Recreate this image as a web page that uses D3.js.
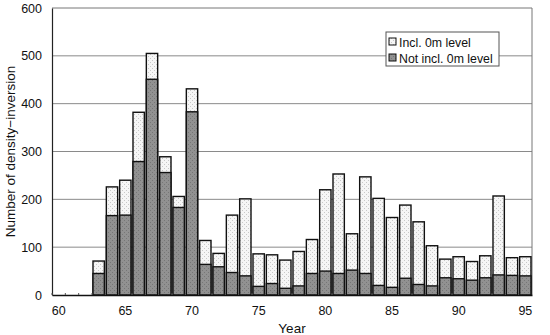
<!DOCTYPE html>
<html>
<head>
<meta charset="utf-8">
<script src="https://cdn.jsdelivr.net/npm/d3@7"></script>
<style>
  html, body { margin: 0; padding: 0; background: #fff; }
  svg { display: block; font-family: "Liberation Sans", Arial, sans-serif; }
</style>
</head>
<body>
<svg id="chart" width="550" height="335"></svg>
<script>
const years = d3.range(60, 96);
const barYears = d3.range(63, 96);
const inclValues = [71, 226, 240, 382, 505, 289, 206, 431, 114, 87, 167, 201, 86, 84, 73, 91, 116, 220, 253, 128, 247, 202, 162, 188, 153, 103, 75, 80, 70, 82, 207, 78, 80];
const notInclValues = [45, 166, 167, 279, 451, 256, 183, 383, 64, 59, 47, 40, 18, 24, 14, 19, 45, 50, 45, 52, 45, 20, 16, 35, 22, 19, 36, 34, 31, 36, 42, 41, 40];
const yTicks = [0, 100, 200, 300, 400, 500, 600];
const xTickLabels = [60, 65, 70, 75, 80, 85, 90, 95];
const seriesNames = ["Incl. 0m level", "Not incl. 0m level"];

const svg = d3.select("#chart");
const margin = { left: 52, right: 18, top: 8, bottom: 40 };
const W = 550, H = 335;

const defs = svg.append("defs");
function stipple(id, base, dot) {
  const p = defs.append("pattern").attr("id", id).attr("patternUnits", "userSpaceOnUse")
    .attr("width", 4).attr("height", 4);
  p.append("rect").attr("width", 4).attr("height", 4).attr("fill", base);
  p.append("rect").attr("x", 0).attr("y", 0).attr("width", 1).attr("height", 1).attr("fill", dot);
  p.append("rect").attr("x", 2).attr("y", 2).attr("width", 1).attr("height", 1).attr("fill", dot);
}
stipple("lightPat", "#f6f6f6", "#c8c8c8");
stipple("darkPat", "#919191", "#767676");

const x = d3.scaleBand().domain(years).range([margin.left, W - margin.right]).padding(0);
const y = d3.scaleLinear().domain([0, 600]).range([H - margin.bottom, margin.top]);

// gridlines
svg.append("g").selectAll("line").data(yTicks.filter(d => d > 0 && d < 600)).join("line")
  .attr("x1", margin.left).attr("x2", W - margin.right)
  .attr("y1", d => y(d)).attr("y2", d => y(d))
  .attr("stroke", "#8a8a8a").attr("stroke-width", 1);

// plot frame (top, right)
svg.append("path")
  .attr("d", `M${margin.left},${y(600)}H${W - margin.right}V${y(0)}`)
  .attr("fill", "none").attr("stroke", "#777").attr("stroke-width", 1);

const bw = x.bandwidth();
const inset = 1;
// light bars
svg.append("g").selectAll("rect").data(barYears.map((yr, i) => ({ yr, v: inclValues[i] }))).join("rect")
  .attr("x", d => x(d.yr) + inset).attr("width", bw - 2 * inset)
  .attr("y", d => y(d.v)).attr("height", d => y(0) - y(d.v))
  .attr("fill", "url(#lightPat)").attr("stroke", "#111").attr("stroke-width", 1.4);
// dark bars
svg.append("g").selectAll("rect").data(barYears.map((yr, i) => ({ yr, v: notInclValues[i] }))).join("rect")
  .attr("x", d => x(d.yr) + inset).attr("width", bw - 2 * inset)
  .attr("y", d => y(d.v)).attr("height", d => y(0) - y(d.v))
  .attr("fill", "url(#darkPat)").attr("stroke", "#111").attr("stroke-width", 1.4);

// y axis
const yAxis = d3.axisLeft(y).tickValues(yTicks).tickSize(0).tickPadding(10);
const gy = svg.append("g").attr("transform", `translate(${margin.left},0)`).call(yAxis);
gy.select(".domain").attr("stroke", "#222").attr("stroke-width", 1.2);
gy.selectAll("text").attr("font-size", 12.5).attr("fill", "#111");

// x axis
const xAxis = d3.axisBottom(x).tickValues(xTickLabels).tickSize(0).tickPadding(11);
const gx = svg.append("g").attr("transform", `translate(0,${y(0)})`).call(xAxis);
gx.select(".domain").attr("stroke", "#111").attr("stroke-width", 1.5);
gx.selectAll("text").attr("font-size", 12.5).attr("fill", "#111");
// small category tick marks at band boundaries
svg.append("g").selectAll("line").data(years).join("line")
  .attr("x1", d => x(d)).attr("x2", d => x(d))
  .attr("y1", y(0)).attr("y2", y(0) - 2)
  .attr("stroke", "#555").attr("stroke-width", 1);

// axis titles
svg.append("text").attr("x", (margin.left + W - margin.right) / 2).attr("y", 333)
  .attr("text-anchor", "middle").attr("font-size", 13.5).attr("fill", "#111").text("Year");
svg.append("text")
  .attr("transform", `translate(15,${(y(0) + y(600)) / 2}) rotate(-90)`)
  .attr("text-anchor", "middle").attr("font-size", 13.5).attr("fill", "#111")
  .text("Number of density\u2212inversion");

// legend
const lg = svg.append("g").attr("transform", "translate(386,32)");
lg.append("rect").attr("width", 113).attr("height", 34).attr("fill", "#fff")
  .attr("stroke", "#555").attr("stroke-width", 1);
const fills = ["url(#lightPat)", "url(#darkPat)"];
seriesNames.forEach((name, i) => {
  const row = lg.append("g").attr("transform", `translate(3,${4 + i * 16})`);
  row.append("rect").attr("x", 0).attr("y", 2).attr("width", 7).attr("height", 7)
    .attr("fill", fills[i]).attr("stroke", "#111").attr("stroke-width", 1);
  row.append("text").attr("x", 10).attr("y", 11).attr("font-size", 12.3).attr("fill", "#111").text(name);
});
</script>
</body>
</html>
